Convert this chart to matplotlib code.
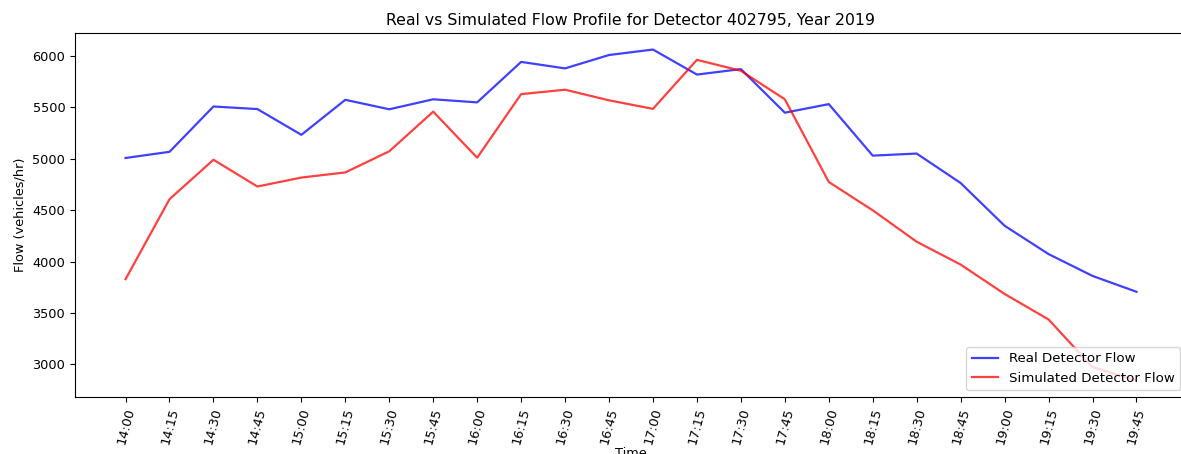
import matplotlib
matplotlib.use("Agg")
import matplotlib.pyplot as plt

times = ["14:00", "14:15", "14:30", "14:45", "15:00", "15:15", "15:30", "15:45",
         "16:00", "16:15", "16:30", "16:45", "17:00", "17:15", "17:30", "17:45",
         "18:00", "18:15", "18:30", "18:45", "19:00", "19:15", "19:30", "19:45"]

real_flow = [5005, 5065, 5505, 5480, 5230, 5570, 5478, 5575,
             5545, 5938, 5875, 6005, 6058, 5815, 5868, 5445,
             5528, 5028, 5048, 4762, 4347, 4072, 3860, 3706]

sim_flow = [3828, 4605, 4988, 4728, 4815, 4865, 5070, 5455,
            5008, 5625, 5668, 5565, 5482, 5958, 5852, 5575,
            4772, 4497, 4192, 3970, 3685, 3437, 2975, 2845]

plt.rcParams["font.size"] = 9.3

fig = plt.figure(figsize=(11.81, 4.54), dpi=100)
# axes run a little past the right edge of the canvas
ax = fig.add_axes([75 / 1181, 57 / 454, 1112 / 1181, 364 / 454])

ax.plot(times, real_flow, color="blue", alpha=0.75, linewidth=1.6, label="Real Detector Flow")
ax.plot(times, sim_flow, color="red", alpha=0.75, linewidth=1.6, label="Simulated Detector Flow")

ax.set_title("Real vs Simulated Flow Profile for Detector 402795, Year 2019", fontsize=11.3)
ax.set_xlabel("Time", labelpad=1)
ax.set_ylabel("Flow (vehicles/hr)")
ax.tick_params(axis="x", labelrotation=75)
ax.legend(loc="lower right", fontsize=9.6)

fig.savefig("out.png", dpi=100)
